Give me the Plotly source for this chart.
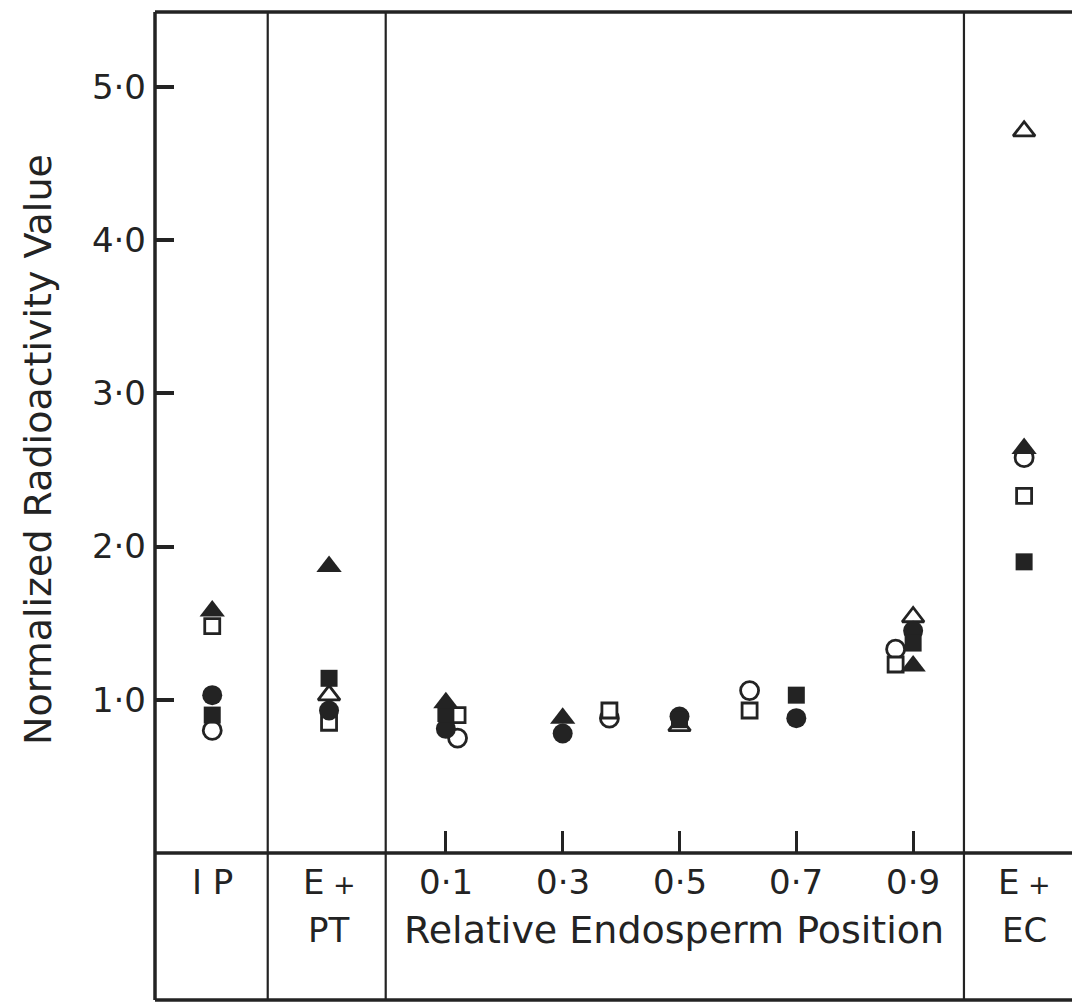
import plotly.graph_objects as go

# Column positions on the shared horizontal scale
COL_IP = -0.3
COL_EPT = -0.1
COL_EEC = 1.09
POS_MAIN = [0.1, 0.3, 0.5, 0.7, 0.9]      # sampled positions, most series
POS_ALT = [0.12, 0.38, 0.62, 0.87]        # sampled positions, circle/square (open) series

# Normalized radioactivity values (None = not plotted)
# order: IP, E+PT, endosperm positions..., E+EC
open_circle = [0.80, None, 0.75, 0.88, 1.06, 1.33, 2.58]
open_square = [1.48, 0.85, 0.90, 0.93, 0.93, 1.23, 2.33]
open_triangle = [None, 1.03, None, None, 0.83, None, 1.54, 4.71]
filled_circle = [1.03, 0.93, 0.81, 0.78, 0.89, 0.88, 1.45, None]
filled_square = [0.90, 1.14, 0.91, None, 0.87, 1.03, 1.37, 1.90]
filled_triangle = [1.58, 1.87, 0.98, 0.88, None, None, 1.22, 2.64]

# Table labels
ROW1_LABELS = ["0·1", "0·3", "0·5", "0·7", "0·9"]
Y_TICKS = [1, 2, 3, 4, 5]
Y_TICK_TEXT = ["1·0", "2·0", "3·0", "4·0", "5·0"]

INK = "#232323"
FONT = "DejaVu Sans"

x_main = [COL_IP, COL_EPT] + POS_MAIN + [COL_EEC]
x_alt = [COL_IP, COL_EPT] + POS_ALT + [COL_EEC]

fig = go.Figure()


def add_series(x, y, symbol, filled, size):
    fig.add_trace(go.Scatter(
        x=x, y=y, mode="markers", showlegend=False,
        marker=dict(
            symbol=symbol, size=size,
            color=INK if filled else "white",
            line=dict(color=INK, width=0 if filled else 2.8),
        ),
    ))


# open symbols first, filled symbols on top
add_series(x_alt, open_circle, "circle", False, 18)
add_series(x_alt, open_square, "square", False, 15)
add_series(x_main, open_triangle, "triangle-up", False, 19)
add_series(x_main, filled_circle, "circle", True, 20)
add_series(x_main, filled_square, "square", True, 17)
add_series(x_main, filled_triangle, "triangle-up", True, 22)

X_RANGE = [-0.398, 1.172]
BOTTOM = -0.1748   # bottom rule of the label table (paper units)
LW = 3.5

shapes = []
# outer frame: top rule, left rule, axis rule, table bottom rule
shapes.append(dict(type="line", xref="paper", yref="paper", x0=0, x1=1, y0=1, y1=1,
                   line=dict(color=INK, width=LW)))
shapes.append(dict(type="line", xref="paper", yref="paper", x0=0, x1=0, y0=1, y1=BOTTOM,
                   line=dict(color=INK, width=LW)))
shapes.append(dict(type="line", xref="paper", yref="paper", x0=0, x1=1, y0=0, y1=0,
                   line=dict(color=INK, width=LW)))
shapes.append(dict(type="line", xref="paper", yref="paper", x0=0, x1=1, y0=BOTTOM, y1=BOTTOM,
                   line=dict(color=INK, width=LW)))
# column separators
for xs in [-0.205, -0.003, 0.987]:
    shapes.append(dict(type="line", xref="x", yref="paper", x0=xs, x1=xs, y0=1, y1=BOTTOM,
                       line=dict(color=INK, width=2.2)))

ROW1 = -0.0345
ROW2 = -0.0916
annotations = []


def label(x, y, text, size=34):
    annotations.append(dict(x=x, y=y, xref="x", yref="paper", text=text, showarrow=False,
                            xanchor="center", yanchor="middle",
                            font=dict(family=FONT, size=size, color=INK)))


PLUS = "E<span style='font-size:27px'> +</span>"
label(COL_IP, ROW1, "I P")
label(COL_EPT, ROW1, PLUS)
label(COL_EPT, ROW2, "PT")
for p, t in zip(POS_MAIN, ROW1_LABELS):
    label(p, ROW1, t)
label(0.49, ROW2, "Relative Endosperm Position", size=38)
label(COL_EEC, ROW1, PLUS)
label(COL_EEC, ROW2, "EC")

annotations.append(dict(x=-0.1276, y=0.4804, xref="paper", yref="paper",
                        text="Normalized Radioactivity Value", textangle=-90,
                        showarrow=False, xanchor="center", yanchor="middle",
                        font=dict(family=FONT, size=38, color=INK)))

fig.update_layout(
    width=1072, height=1005,
    margin=dict(l=155, r=0, t=12, b=152),
    paper_bgcolor="white", plot_bgcolor="white",
    shapes=shapes, annotations=annotations,
    xaxis=dict(range=X_RANGE, showgrid=False, zeroline=False, showline=False,
               tickvals=POS_MAIN, showticklabels=False, ticks="inside",
               ticklen=22, tickwidth=3, tickcolor=INK),
    yaxis=dict(range=[0, 5.488], showgrid=False, zeroline=False, showline=False,
               tickvals=Y_TICKS, ticktext=Y_TICK_TEXT, ticks="inside",
               ticklen=19, tickwidth=3.5, tickcolor=INK, ticklabelstandoff=8,
               tickfont=dict(family=FONT, size=34, color=INK)),
)

fig.write_html("out.html")
